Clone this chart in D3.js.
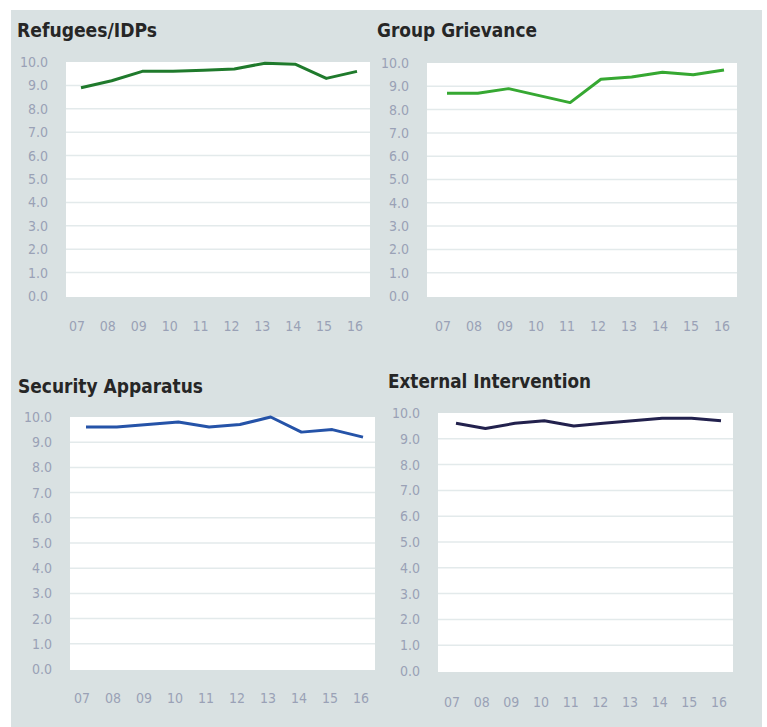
<!DOCTYPE html>
<html>
<head>
<meta charset="utf-8">
<script src="https://cdn.jsdelivr.net/npm/d3@7"></script>
<style>
  body { margin: 0; background: #fff; }
  svg { display: block; }
  text { font-family: "DejaVu Sans Condensed", "Liberation Sans Narrow", "Arial Narrow", sans-serif; }
</style>
</head>
<body>
<div id="chart"></div>
<script>
const years = ["07", "08", "09", "10", "11", "12", "13", "14", "15", "16"];
const yTicks = [0, 1, 2, 3, 4, 5, 6, 7, 8, 9, 10];

const refugees = [8.9, 9.2, 9.6, 9.6, 9.65, 9.7, 9.95, 9.9, 9.3, 9.6];
const grievance = [8.7, 8.7, 8.9, 8.6, 8.3, 9.3, 9.4, 9.6, 9.5, 9.7];
const security = [9.6, 9.6, 9.7, 9.8, 9.6, 9.7, 10.0, 9.4, 9.5, 9.2];
const external = [9.6, 9.4, 9.6, 9.7, 9.5, 9.6, 9.7, 9.8, 9.8, 9.7];

const titles = ["Refugees/IDPs", "Group Grievance", "Security Apparatus", "External Intervention"];
const seriesList = [refugees, grievance, security, external];
const colors = ["#1f7a2c", "#36a832", "#2553a8", "#22214d"];

// panel boxes: plot area left/right/top/bottom, title position + width, x label row
const panels = [
  { l: 66, r: 370, t: 62, b: 297, tx: 17, ty: 37, tw: 140, xl0: 77, xl1: 355, xly: 331 },
  { l: 427, r: 737, t: 63, b: 297, tx: 377, ty: 37, tw: 160, xl0: 443, xl1: 722, xly: 331 },
  { l: 70, r: 375, t: 417, b: 670, tx: 18, ty: 393, tw: 185, xl0: 82, xl1: 361, xly: 703 },
  { l: 438, r: 733, t: 413, b: 672, tx: 388, ty: 388, tw: 203, xl0: 452, xl1: 719, xly: 707 }
];

const W = 767, H = 727;
const svg = d3.select("#chart").append("svg")
  .attr("width", W)
  .attr("height", H);

svg.append("rect")
  .attr("x", 11).attr("y", 10)
  .attr("width", 751).attr("height", 717)
  .attr("fill", "#d9e1e2");

panels.forEach((p, i) => {
  const g = svg.append("g");
  const data = seriesList[i];

  const y = d3.scaleLinear().domain([0, 10]).range([p.b - 1, p.t]);
  const x = d3.scalePoint().domain(years).range([p.xl0 + 4, p.xl1 + 2]);
  const xl = d3.scalePoint().domain(years).range([p.xl0, p.xl1]);

  g.append("rect")
    .attr("x", p.l).attr("y", p.t)
    .attr("width", p.r - p.l).attr("height", p.b - p.t)
    .attr("fill", "#fff");

  g.selectAll(".grid")
    .data(yTicks.filter(d => d > 0 && d < 10))
    .enter().append("line")
    .attr("x1", p.l).attr("x2", p.r)
    .attr("y1", d => y(d)).attr("y2", d => y(d))
    .attr("stroke", "#e3eaeb")
    .attr("stroke-width", 1.5);

  g.selectAll(".ylab")
    .data(yTicks)
    .enter().append("text")
    .attr("x", p.l - 18)
    .attr("y", d => y(d))
    .attr("dy", "0.35em")
    .attr("text-anchor", "end")
    .style("font-size", "14px")
    .style("fill", "#9aa1b6")
    .text(d => d.toFixed(1));

  g.selectAll(".xlab")
    .data(years)
    .enter().append("text")
    .attr("x", d => xl(d))
    .attr("y", p.xly)
    .attr("text-anchor", "middle")
    .style("font-size", "14px")
    .style("fill", "#9aa1b6")
    .text(d => d);

  const line = d3.line()
    .x((d, j) => x(years[j]))
    .y(d => y(d));

  g.append("path")
    .datum(data)
    .attr("d", line)
    .attr("fill", "none")
    .attr("stroke", colors[i])
    .attr("stroke-width", 3)
    .attr("stroke-linejoin", "round");

  // titles are set in a condensed face in the original, so squeeze to width
  g.append("text")
    .attr("x", p.tx)
    .attr("y", p.ty)
    .attr("textLength", p.tw)
    .attr("lengthAdjust", "spacingAndGlyphs")
    .style("font-size", "20px")
    .style("font-weight", "bold")
    .style("fill", "#262626")
    .text(titles[i]);
});
</script>
</body>
</html>
